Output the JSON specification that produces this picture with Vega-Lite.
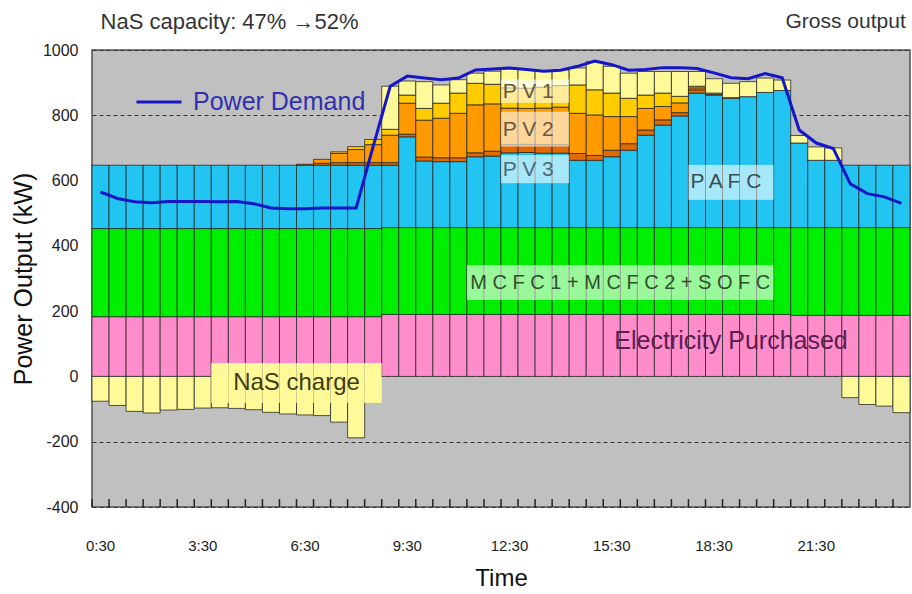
{
  "$schema": "https://vega.github.io/schema/vega-lite/v6.json",
  "width": 818,
  "height": 457,
  "autosize": {"type": "none"},
  "padding": {"left": 92, "top": 50, "right": 2, "bottom": 87},
  "background": "white",
  "config": {
    "view": {"fill": "#C0C0C0", "stroke": "#505050", "strokeWidth": 1.5},
    "font": "Liberation Sans"
  },
  "datasets": {
    "main": [
      {"t": "0:30", "EP": 183, "FC": 270, "PAFC": 194, "PV3": 0, "PV2": 0, "PV1": 0, "NaSd": 0, "NaSc": -76, "D": 565},
      {"t": "1:00", "EP": 183, "FC": 270, "PAFC": 194, "PV3": 0, "PV2": 0, "PV1": 0, "NaSd": 0, "NaSc": -89, "D": 545},
      {"t": "1:30", "EP": 183, "FC": 270, "PAFC": 194, "PV3": 0, "PV2": 0, "PV1": 0, "NaSd": 0, "NaSc": -107, "D": 535},
      {"t": "2:00", "EP": 183, "FC": 270, "PAFC": 194, "PV3": 0, "PV2": 0, "PV1": 0, "NaSd": 0, "NaSc": -112, "D": 532},
      {"t": "2:30", "EP": 183, "FC": 270, "PAFC": 194, "PV3": 0, "PV2": 0, "PV1": 0, "NaSd": 0, "NaSc": -103, "D": 536},
      {"t": "3:00", "EP": 183, "FC": 270, "PAFC": 194, "PV3": 0, "PV2": 0, "PV1": 0, "NaSd": 0, "NaSc": -101, "D": 536},
      {"t": "3:30", "EP": 183, "FC": 270, "PAFC": 194, "PV3": 0, "PV2": 0, "PV1": 0, "NaSd": 0, "NaSc": -97, "D": 536},
      {"t": "4:00", "EP": 183, "FC": 270, "PAFC": 194, "PV3": 0, "PV2": 0, "PV1": 0, "NaSd": 0, "NaSc": -96, "D": 535},
      {"t": "4:30", "EP": 183, "FC": 270, "PAFC": 194, "PV3": 0, "PV2": 0, "PV1": 0, "NaSd": 0, "NaSc": -98, "D": 536},
      {"t": "5:00", "EP": 183, "FC": 270, "PAFC": 194, "PV3": 0, "PV2": 0, "PV1": 0, "NaSd": 0, "NaSc": -102, "D": 529},
      {"t": "5:30", "EP": 183, "FC": 270, "PAFC": 194, "PV3": 0, "PV2": 0, "PV1": 0, "NaSd": 0, "NaSc": -110, "D": 516},
      {"t": "6:00", "EP": 183, "FC": 270, "PAFC": 194, "PV3": 0, "PV2": 0, "PV1": 0, "NaSd": 0, "NaSc": -115, "D": 514},
      {"t": "6:30", "EP": 183, "FC": 270, "PAFC": 194, "PV3": 3, "PV2": 0, "PV1": 0, "NaSd": 0, "NaSc": -118, "D": 514},
      {"t": "7:00", "EP": 183, "FC": 270, "PAFC": 194, "PV3": 6, "PV2": 12, "PV1": 0, "NaSd": 0, "NaSc": -120, "D": 516},
      {"t": "7:30", "EP": 183, "FC": 270, "PAFC": 194, "PV3": 8, "PV2": 28, "PV1": 5, "NaSd": 0, "NaSc": -140, "D": 516},
      {"t": "8:00", "EP": 183, "FC": 270, "PAFC": 194, "PV3": 8, "PV2": 40, "PV1": 9, "NaSd": 0, "NaSc": -188, "D": 516},
      {"t": "8:30", "EP": 183, "FC": 270, "PAFC": 194, "PV3": 8, "PV2": 55, "PV1": 16, "NaSd": 0, "NaSc": 0, "D": 705},
      {"t": "9:00", "EP": 190, "FC": 266, "PAFC": 191, "PV3": 8, "PV2": 84, "PV1": 18, "NaSd": 132, "NaSc": 0, "D": 889},
      {"t": "9:30", "EP": 190, "FC": 266, "PAFC": 278, "PV3": 8, "PV2": 95, "PV1": 25, "NaSd": 43, "NaSc": 0, "D": 920},
      {"t": "10:00", "EP": 190, "FC": 266, "PAFC": 204, "PV3": 12, "PV2": 113, "PV1": 36, "NaSd": 82, "NaSc": 0, "D": 914},
      {"t": "10:30", "EP": 190, "FC": 266, "PAFC": 202, "PV3": 12, "PV2": 121, "PV1": 46, "NaSd": 56, "NaSc": 0, "D": 909},
      {"t": "11:00", "EP": 190, "FC": 266, "PAFC": 202, "PV3": 12, "PV2": 136, "PV1": 62, "NaSd": 41, "NaSc": 0, "D": 914},
      {"t": "11:30", "EP": 190, "FC": 266, "PAFC": 217, "PV3": 12, "PV2": 147, "PV1": 66, "NaSd": 31, "NaSc": 0, "D": 939},
      {"t": "12:00", "EP": 190, "FC": 266, "PAFC": 219, "PV3": 15, "PV2": 145, "PV1": 60, "NaSd": 40, "NaSc": 0, "D": 942},
      {"t": "12:30", "EP": 190, "FC": 266, "PAFC": 229, "PV3": 25, "PV2": 112, "PV1": 62, "NaSd": 58, "NaSc": 0, "D": 945},
      {"t": "13:00", "EP": 190, "FC": 266, "PAFC": 230, "PV3": 25, "PV2": 110, "PV1": 62, "NaSd": 57, "NaSc": 0, "D": 940},
      {"t": "13:30", "EP": 190, "FC": 266, "PAFC": 228, "PV3": 26, "PV2": 112, "PV1": 64, "NaSd": 50, "NaSc": 0, "D": 935},
      {"t": "14:00", "EP": 190, "FC": 266, "PAFC": 228, "PV3": 26, "PV2": 115, "PV1": 66, "NaSd": 48, "NaSc": 0, "D": 938},
      {"t": "14:30", "EP": 190, "FC": 266, "PAFC": 206, "PV3": 21, "PV2": 123, "PV1": 87, "NaSd": 52, "NaSc": 0, "D": 950},
      {"t": "15:00", "EP": 190, "FC": 266, "PAFC": 206, "PV3": 15, "PV2": 124, "PV1": 77, "NaSd": 87, "NaSc": 0, "D": 966},
      {"t": "15:30", "EP": 190, "FC": 266, "PAFC": 217, "PV3": 20, "PV2": 103, "PV1": 72, "NaSd": 82, "NaSc": 0, "D": 955},
      {"t": "16:00", "EP": 190, "FC": 266, "PAFC": 237, "PV3": 20, "PV2": 83, "PV1": 56, "NaSd": 77, "NaSc": 0, "D": 938},
      {"t": "16:30", "EP": 190, "FC": 266, "PAFC": 283, "PV3": 16, "PV2": 66, "PV1": 41, "NaSd": 72, "NaSc": 0, "D": 940},
      {"t": "17:00", "EP": 190, "FC": 266, "PAFC": 314, "PV3": 16, "PV2": 41, "PV1": 41, "NaSd": 66, "NaSc": 0, "D": 946},
      {"t": "17:30", "EP": 190, "FC": 266, "PAFC": 342, "PV3": 10, "PV2": 30, "PV1": 20, "NaSd": 76, "NaSc": 0, "D": 946},
      {"t": "18:00", "EP": 190, "FC": 266, "PAFC": 412, "PV3": 10, "PV2": 6, "PV1": 5, "NaSd": 45, "NaSc": 0, "D": 943},
      {"t": "18:30", "EP": 190, "FC": 266, "PAFC": 406, "PV3": 0, "PV2": 2, "PV1": 4, "NaSd": 44, "NaSc": 0, "D": 930},
      {"t": "19:00", "EP": 190, "FC": 266, "PAFC": 396, "PV3": 0, "PV2": 0, "PV1": 2, "NaSd": 44, "NaSc": 0, "D": 915},
      {"t": "19:30", "EP": 190, "FC": 266, "PAFC": 401, "PV3": 0, "PV2": 0, "PV1": 0, "NaSd": 46, "NaSc": 0, "D": 912},
      {"t": "20:00", "EP": 190, "FC": 266, "PAFC": 414, "PV3": 0, "PV2": 0, "PV1": 0, "NaSd": 44, "NaSc": 0, "D": 928},
      {"t": "20:30", "EP": 190, "FC": 266, "PAFC": 420, "PV3": 0, "PV2": 0, "PV1": 0, "NaSd": 32, "NaSc": 0, "D": 915},
      {"t": "21:00", "EP": 187, "FC": 269, "PAFC": 259, "PV3": 0, "PV2": 0, "PV1": 0, "NaSd": 23, "NaSc": 0, "D": 755},
      {"t": "21:30", "EP": 187, "FC": 269, "PAFC": 206, "PV3": 0, "PV2": 0, "PV1": 0, "NaSd": 41, "NaSc": 0, "D": 715},
      {"t": "22:00", "EP": 187, "FC": 269, "PAFC": 206, "PV3": 0, "PV2": 0, "PV1": 0, "NaSd": 38, "NaSc": 0, "D": 698},
      {"t": "22:30", "EP": 187, "FC": 269, "PAFC": 191, "PV3": 0, "PV2": 0, "PV1": 0, "NaSd": 0, "NaSc": -65, "D": 590},
      {"t": "23:00", "EP": 187, "FC": 269, "PAFC": 191, "PV3": 0, "PV2": 0, "PV1": 0, "NaSd": 0, "NaSc": -86, "D": 560},
      {"t": "23:30", "EP": 187, "FC": 269, "PAFC": 191, "PV3": 0, "PV2": 0, "PV1": 0, "NaSd": 0, "NaSc": -91, "D": 550},
      {"t": "24:00", "EP": 187, "FC": 269, "PAFC": 191, "PV3": 0, "PV2": 0, "PV1": 0, "NaSd": 0, "NaSc": -111, "D": 530}
    ],
    "comp": [
      {"k": "EP", "r": 1}, {"k": "FC", "r": 2}, {"k": "PAFC", "r": 3}, {"k": "PV3", "r": 4},
      {"k": "PV2", "r": 5}, {"k": "PV1", "r": 6}, {"k": "NaSd", "r": 7}, {"k": "NaSc", "r": 8}
    ],
    "wbox": [
      {"t": "12:30", "lo": 838, "hi": 910}, {"t": "13:00", "lo": 838, "hi": 910}, {"t": "13:30", "lo": 838, "hi": 910}, {"t": "14:00", "lo": 838, "hi": 910},
      {"t": "12:30", "lo": 704, "hi": 811}, {"t": "13:00", "lo": 704, "hi": 811}, {"t": "13:30", "lo": 704, "hi": 811}, {"t": "14:00", "lo": 704, "hi": 811},
      {"t": "12:30", "lo": 592, "hi": 678}, {"t": "13:00", "lo": 592, "hi": 678}, {"t": "13:30", "lo": 592, "hi": 678}, {"t": "14:00", "lo": 592, "hi": 678},
      {"t": "18:00", "lo": 541, "hi": 648}, {"t": "18:30", "lo": 541, "hi": 648}, {"t": "19:00", "lo": 541, "hi": 648}, {"t": "19:30", "lo": 541, "hi": 648}, {"t": "20:00", "lo": 541, "hi": 648},
      {"t": "11:30", "lo": 234, "hi": 341}, {"t": "12:00", "lo": 234, "hi": 341}, {"t": "12:30", "lo": 234, "hi": 341}, {"t": "13:00", "lo": 234, "hi": 341},
      {"t": "13:30", "lo": 234, "hi": 341}, {"t": "14:00", "lo": 234, "hi": 341}, {"t": "14:30", "lo": 234, "hi": 341}, {"t": "15:00", "lo": 234, "hi": 341},
      {"t": "15:30", "lo": 234, "hi": 341}, {"t": "16:00", "lo": 234, "hi": 341}, {"t": "16:30", "lo": 234, "hi": 341}, {"t": "17:00", "lo": 234, "hi": 341},
      {"t": "17:30", "lo": 234, "hi": 341}, {"t": "18:00", "lo": 234, "hi": 341}, {"t": "18:30", "lo": 234, "hi": 341}, {"t": "19:00", "lo": 234, "hi": 341},
      {"t": "19:30", "lo": 234, "hi": 341}, {"t": "20:00", "lo": 234, "hi": 341}
    ],
    "ybox": [
      {"t": "4:00", "lo": -81, "hi": 41}, {"t": "4:30", "lo": -81, "hi": 41}, {"t": "5:00", "lo": -81, "hi": 41}, {"t": "5:30", "lo": -81, "hi": 41},
      {"t": "6:00", "lo": -81, "hi": 41}, {"t": "6:30", "lo": -81, "hi": 41}, {"t": "7:00", "lo": -81, "hi": 41}, {"t": "7:30", "lo": -81, "hi": 41},
      {"t": "8:00", "lo": -81, "hi": 41}, {"t": "8:30", "lo": -81, "hi": 41}
    ]
  },
  "encoding": {
    "x": {
      "field": "t",
      "type": "ordinal",
      "title": "Time",
      "scale": {
        "domain": ["0:30","1:00","1:30","2:00","2:30","3:00","3:30","4:00","4:30","5:00","5:30","6:00","6:30","7:00","7:30","8:00","8:30","9:00","9:30","10:00","10:30","11:00","11:30","12:00","12:30","13:00","13:30","14:00","14:30","15:00","15:30","16:00","16:30","17:00","17:30","18:00","18:30","19:00","19:30","20:00","20:30","21:00","21:30","22:00","22:30","23:00","23:30","24:00"],
        "paddingInner": 0,
        "paddingOuter": 0
      },
      "axis": {
        "ticks": false,
        "domain": false,
        "grid": false,
        "labelAngle": 0,
        "labelOverlap": false,
        "labelExpr": "indexof(['0:30','3:30','6:30','9:30','12:30','15:30','18:30','21:30'], datum.value) >= 0 ? datum.value : ''",
        "labelFont": "Liberation Sans",
        "labelFontSize": 15,
        "labelColor": "#222222",
        "labelPadding": 31,
        "titleFont": "Liberation Sans",
        "titleFontSize": 24,
        "titleFontWeight": "normal",
        "titleColor": "#111111",
        "titlePadding": 13
      }
    }
  },
  "layer": [
    {
      "data": {"name": "main"},
      "transform": [
        {"fold": ["EP", "FC", "PAFC", "PV3", "PV2", "PV1", "NaSd", "NaSc"], "as": ["key", "value"]},
        {"filter": "datum.value != 0"},
        {"lookup": "key", "from": {"data": {"name": "comp"}, "key": "k", "fields": ["r"]}}
      ],
      "mark": {"type": "bar", "stroke": "#2a2a2a", "strokeWidth": 0.8},
      "encoding": {
        "y": {
          "field": "value",
          "type": "quantitative",
          "stack": "zero",
          "title": "Power Output (kW)",
          "scale": {"domain": [-400, 1000], "nice": false},
          "axis": {
            "values": [-400, -200, 0, 200, 400, 600, 800, 1000],
            "labelExpr": "'' + datum.value",
            "grid": true,
            "gridColor": "#333333",
            "gridDash": [4, 3],
            "gridWidth": 1,
            "ticks": false,
            "domain": false,
            "labelFont": "Liberation Sans",
            "labelFontSize": 16,
            "labelColor": "#222222",
            "labelPadding": 14,
            "titleFont": "Liberation Sans",
            "titleFontSize": 25,
            "titleFontWeight": "normal",
            "titleColor": "#111111",
            "titlePadding": 6
          }
        },
        "color": {
          "field": "key",
          "type": "nominal",
          "legend": null,
          "scale": {
            "domain": ["EP", "FC", "PAFC", "PV3", "PV2", "PV1", "NaSd", "NaSc"],
            "range": ["#FF8CCB", "#00EE00", "#22C5F2", "#E26A00", "#FF9900", "#FFCC00", "#FFFA99", "#FFFA99"]
          }
        },
        "order": {"field": "r", "type": "quantitative", "sort": "ascending"}
      }
    },
    {
      "data": {"name": "main"},
      "mark": {"type": "tick", "orient": "vertical", "color": "#222222", "thickness": 1.5, "size": 8, "opacity": 1},
      "encoding": {
        "x": {"field": "t", "type": "ordinal", "bandPosition": 0},
        "y": {"datum": -388, "type": "quantitative"}
      }
    },
    {
      "data": {"name": "wbox"},
      "mark": {"type": "bar", "fill": "white", "fillOpacity": 0.6, "strokeWidth": 0},
      "encoding": {
        "y": {"field": "lo", "type": "quantitative", "title": "Power Output (kW)"},
        "y2": {"field": "hi"}
      }
    },
    {
      "data": {"name": "ybox"},
      "mark": {"type": "bar", "fill": "#FFFA99", "strokeWidth": 0},
      "encoding": {
        "y": {"field": "lo", "type": "quantitative", "title": "Power Output (kW)"},
        "y2": {"field": "hi"}
      }
    },
    {
      "data": {"name": "main"},
      "mark": {"type": "line", "strokeWidth": 3},
      "encoding": {
        "y": {"field": "D", "type": "quantitative", "title": "Power Output (kW)"},
        "stroke": {
          "datum": "Power Demand",
          "type": "nominal",
          "scale": {"range": ["#1616C8"]},
          "legend": {
            "title": null,
            "orient": "top-left",
            "offset": 28,
            "padding": 0,
            "symbolType": "stroke",
            "symbolSize": 2025,
            "symbolStrokeWidth": 3,
            "symbolOffset": 15,
            "labelFont": "Liberation Sans",
            "labelFontSize": 25,
            "labelColor": "#3030B0",
            "labelOffset": 10,
            "labelLimit": 400
          }
        }
      }
    },
    {
      "data": {"values": [{"t": "13:00", "v": 871, "label": "P V 1"}, {"t": "13:00", "v": 755, "label": "P V 2"}]},
      "mark": {"type": "text", "font": "Liberation Sans", "fontSize": 21, "color": "#66583F", "baseline": "middle"},
      "encoding": {
        "x": {"field": "t", "type": "ordinal", "bandPosition": 0.6},
        "y": {"field": "v", "type": "quantitative", "title": "Power Output (kW)"},
        "text": {"field": "label"}
      }
    },
    {
      "data": {"values": [{"t": "13:00", "v": 632, "label": "P V 3"}]},
      "mark": {"type": "text", "font": "Liberation Sans", "fontSize": 21, "color": "#4F6A75", "baseline": "middle"},
      "encoding": {
        "x": {"field": "t", "type": "ordinal", "bandPosition": 0.6},
        "y": {"field": "v", "type": "quantitative", "title": "Power Output (kW)"},
        "text": {"field": "label"}
      }
    },
    {
      "data": {"values": [{"t": "19:00", "v": 595, "label": "P A F C"}]},
      "mark": {"type": "text", "font": "Liberation Sans", "fontSize": 21, "color": "#3A4F55", "baseline": "middle"},
      "encoding": {
        "x": {"field": "t", "type": "ordinal", "bandPosition": 0.2},
        "y": {"field": "v", "type": "quantitative", "title": "Power Output (kW)"},
        "text": {"field": "label"}
      }
    },
    {
      "data": {"values": [{"t": "15:30", "v": 287, "label": "M C F C 1 + M C F C 2 + S O F C"}]},
      "mark": {"type": "text", "font": "Liberation Sans", "fontSize": 20, "color": "#2F4F2F", "baseline": "middle"},
      "encoding": {
        "x": {"field": "t", "type": "ordinal", "bandPosition": 1},
        "y": {"field": "v", "type": "quantitative", "title": "Power Output (kW)"},
        "text": {"field": "label"}
      }
    },
    {
      "data": {"values": [{"t": "19:00", "v": 108, "label": "Electricity Purchased"}]},
      "mark": {"type": "text", "font": "Liberation Sans", "fontSize": 25, "color": "#5A1E50", "baseline": "middle"},
      "encoding": {
        "x": {"field": "t", "type": "ordinal", "bandPosition": 0.5},
        "y": {"field": "v", "type": "quantitative", "title": "Power Output (kW)"},
        "text": {"field": "label"}
      }
    },
    {
      "data": {"values": [{"t": "6:00", "v": -20, "label": "NaS charge"}]},
      "mark": {"type": "text", "font": "Liberation Sans", "fontSize": 24, "color": "#403C10", "baseline": "middle"},
      "encoding": {
        "x": {"field": "t", "type": "ordinal", "bandPosition": 1},
        "y": {"field": "v", "type": "quantitative", "title": "Power Output (kW)"},
        "text": {"field": "label"}
      }
    },
    {
      "data": {"values": [{"t": "0:30", "v": 1086, "label": "NaS capacity: 47% →52%"}]},
      "mark": {"type": "text", "font": "Liberation Sans", "fontSize": 22, "color": "#333333", "align": "left", "baseline": "middle"},
      "encoding": {
        "x": {"field": "t", "type": "ordinal", "bandPosition": 0.5},
        "y": {"field": "v", "type": "quantitative", "title": "Power Output (kW)"},
        "text": {"field": "label"}
      }
    },
    {
      "data": {"values": [{"t": "24:00", "v": 1086, "label": "Gross output"}]},
      "mark": {"type": "text", "font": "Liberation Sans", "fontSize": 21, "color": "#333333", "align": "right", "baseline": "middle"},
      "encoding": {
        "x": {"field": "t", "type": "ordinal", "bandPosition": 0.75},
        "y": {"field": "v", "type": "quantitative", "title": "Power Output (kW)"},
        "text": {"field": "label"}
      }
    }
  ]
}
